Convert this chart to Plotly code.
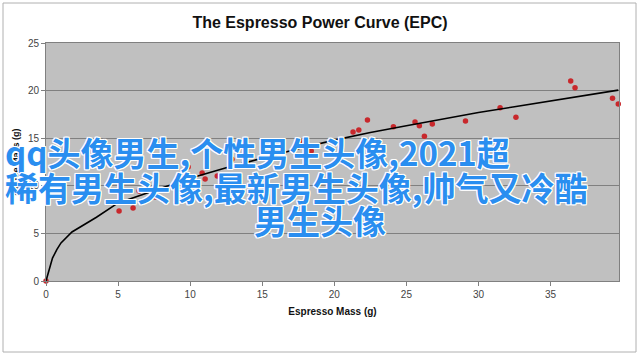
import plotly.graph_objects as go

# Measured data points (espresso mass vs. y value)
mass_points = [0, 5.07, 6.04, 6.46, 7.57, 9.86, 10.14, 10.83, 11.04, 11.88, 12.9,
               17.6, 18.4, 21.3, 21.7, 22.3, 24.1, 25.6, 25.9, 26.25, 26.8,
               29.1, 31.5, 32.6, 36.4, 36.7, 39.3, 39.7]
value_points = [0, 7.35, 7.67, 9.45, 8.82, 11.97, 10.4, 11.34, 10.71, 11.03, 12.8,
                14.7, 13.65, 15.65, 15.86, 16.9, 16.2, 16.7, 16.3, 15.2, 16.5,
                16.8, 18.2, 17.2, 21.0, 20.3, 19.2, 18.6]

# Curve
curve_x = [0, 0.25, 0.45, 0.75, 1.04, 1.8, 3.5, 5.0, 7.5, 10, 12.5, 15, 17.5, 20,
           22.5, 25, 27.5, 30, 32.5, 35, 37.5, 39.7]
curve_y = [0, 1.3, 2.4, 3.3, 4.0, 5.15, 6.7, 8.2, 9.5, 10.8, 11.9, 12.9, 13.9, 14.8,
           15.6, 16.3, 17.0, 17.7, 18.3, 18.9, 19.5, 20.05]

x_ticks = [0, 5, 10, 15, 20, 25, 30, 35]
y_ticks = [0, 5, 10, 15, 20, 25]

title_text = "The Espresso Power Curve (EPC)"
x_title = "Espresso Mass (g)"
y_title = "Coffee Mass (g)"
overlay_lines = ["qq头像男生,个性男生头像,2021超",
                 "稀有男生头像,最新男生头像,帅气又冷酷",
                 "男生头像"]

fig = go.Figure()
fig.add_trace(go.Scatter(x=mass_points, y=value_points, mode="markers",
                         marker=dict(color="#c8282c", size=5.5),
                         showlegend=False, hoverinfo="skip", cliponaxis=False))
fig.add_trace(go.Scatter(x=curve_x, y=curve_y, mode="lines",
                         line=dict(color="black", width=1.6),
                         showlegend=False, hoverinfo="skip"))

L, R, T, B = 46, 21, 43, 77
W, H = 640, 358
pw, ph = W - L - R, H - T - B

def px_to_paper_x(px):
    return (px - L) / pw

def px_to_paper_y(py):
    return (H - B - py) / ph

fig.update_layout(
    width=W, height=H,
    margin=dict(l=L, r=R, t=T, b=B, autoexpand=False),
    paper_bgcolor="white",
    plot_bgcolor="#c0c0c0",
    font=dict(family="Liberation Sans, Arial", color="#333"),
    title=dict(text="<b>" + title_text + "</b>", x=0.5, xanchor="center",
               y=1 - 22 / H, yanchor="middle", automargin=False,
               font=dict(size=16, color="#111", family="Liberation Sans, Arial")),
    xaxis=dict(range=[0, 39.75], tickvals=x_ticks, showgrid=False, zeroline=False,
               automargin=False,
               showline=True, linecolor="#808080", linewidth=1, mirror=True,
               ticks="outside", ticklen=4, tickcolor="#808080",
               tickfont=dict(size=10, color="#444"),
               title=dict(text="<b>" + x_title + "</b>", standoff=8,
                          font=dict(size=10, color="#111"))),
    yaxis=dict(range=[0, 25], tickvals=y_ticks, showgrid=True, gridcolor="#808080",
               gridwidth=1, zeroline=False, showline=True, linecolor="#808080",
               automargin=False,
               linewidth=1, mirror=True, ticks="outside", ticklen=4,
               tickcolor="#808080", tickfont=dict(size=10, color="#444"),
               title=dict(text="<b>" + y_title + "</b>", standoff=6,
                          font=dict(size=9, color="#111"))),
)

# outer chart border
fig.add_shape(type="rect", xref="paper", yref="paper",
              x0=px_to_paper_x(3), x1=px_to_paper_x(636),
              y0=px_to_paper_y(352), y1=px_to_paper_y(3),
              line=dict(color="#b0b0b0", width=1), fillcolor="rgba(0,0,0,0)",
              layer="above")

shadow = ("-1px -1px 0 #fff, 1px -1px 0 #fff, -1px 1px 0 #fff, 1px 1px 0 #fff, "
          "0 -1px 0 #fff, 0 1px 0 #fff, -1px 0 0 #fff, 1px 0 0 #fff")
ov_font = dict(family="Noto Sans CJK SC", size=33, color="#2a8ef0", weight="bold",
               shadow=shadow)
positions = [(3, 152, "left"), (3, 187, "left"), (320, 220, "center")]
for line, (px, py, anchor) in zip(overlay_lines, positions):
    fig.add_annotation(text=line, xref="paper", yref="paper",
                       x=px_to_paper_x(px), y=px_to_paper_y(py),
                       xanchor=anchor, yanchor="middle", showarrow=False,
                       font=ov_font)

fig.write_html("out.html",
               config={"displayModeBar": False},
               post_script="document.body.style.margin='0';"
                           "document.body.style.overflow='hidden';"
                           "document.documentElement.style.overflow='hidden';")
